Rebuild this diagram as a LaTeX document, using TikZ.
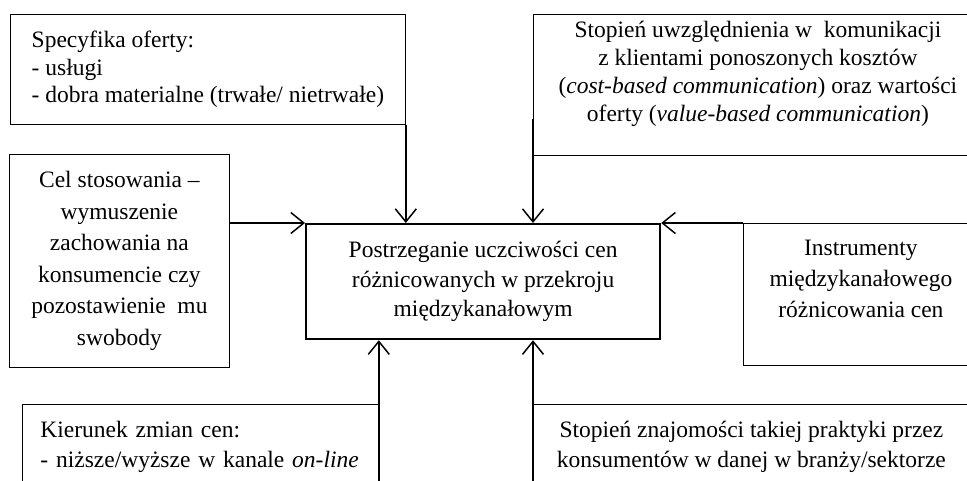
\documentclass[tikz,border=0pt]{standalone}
\usepackage{fontspec}
\setmainfont{Liberation Serif}
\usetikzlibrary{arrows.meta}

\tikzset{
  box/.style={draw, line width=0.8pt, rectangle, anchor=north west, inner sep=0pt},
  mainbox/.style={box, line width=2.2pt},
  lines/.style={font=\fontsize{23.5}{#1}\selectfont},
  arr/.style={-{Straight Barb[length=13pt,width=21pt]}, line width=1.5pt}
}

\begin{document}
\begin{tikzpicture}[x=1pt, y=-1pt]
                  % Frame
                  \useasboundingbox (0,0) rectangle (967,480);
                  \clip (0,0) rectangle (967,480);

                  % Centre box
                  \node[mainbox, lines=29.5, minimum width=354pt, minimum height=115pt,
                        align=center] (centr) at (305,223)
                        {Postrzeganie uczciwości cen\\ różnicowanych w przekroju\\ międzykanałowym};

                  % Boxes round it
                  \node[box, lines=27.5, minimum width=395pt, minimum height=110pt,
                        align=left] (spec) at (10,14)
                        {Specyfika oferty:\\ - usługi\\ - dobra materialne (trwałe/ nietrwałe)};
                  \node[box, lines=31.5, minimum width=220pt, minimum height=213pt,
                        align=center] (aim) at (9,154)
                        {Cel stosowania --\\ wymuszenie\\ zachowania na\\ konsumencie czy\\ pozostawienie \ mu\\ swobody};
                  \node[box, lines=28, minimum width=449pt, minimum height=141pt,
                        align=center] (cost) at (533,14)
                        {Stopień uwzględnienia w \ komunikacji\\ z klientami ponoszonych kosztów\\
                         (\textit{cost-based communication}) oraz wartości\\
                         oferty (\textit{value-based communication})\\ \mbox{}};
                  \node[box, lines=31, minimum width=235pt, minimum height=142pt,
                        align=center] (instr) at (743,223)
                        {Instrumenty\\ międzykanałowego\\ różnicowania cen\\ \mbox{}};
                  \node[box, lines=30, inner xsep=18pt, text width=320pt, minimum height=84pt,
                        align=left] (dir) at (22,404)
                        {Kierunek zmian cen:\\ - niższe/wyższe w kanale \textit{on-line}};
                  \node[box, lines=30, minimum width=436pt, minimum height=84pt,
                        align=center] (known) at (533,404)
                        {Stopień znajomości takiej praktyki przez\\ konsumentów w danej w branży/sektorze};

                  % Arrows
                  \draw[arr] (spec.south east) -- (spec.south east |- centr.north);
                  \draw[arr] ([yshift=37pt]cost.south west) -- (cost.south west |- centr.north);
                  \draw[arr] (aim.east |- centr.north west) -- (centr.north west);
                  \draw[arr] (instr.north west) -- (centr.north east);
                  \draw[arr] (dir.south east) -- (dir.south east |- centr.south);
                  \draw[arr] (known.south west) -- (known.south west |- centr.south);

              \end{tikzpicture}
\end{document}
